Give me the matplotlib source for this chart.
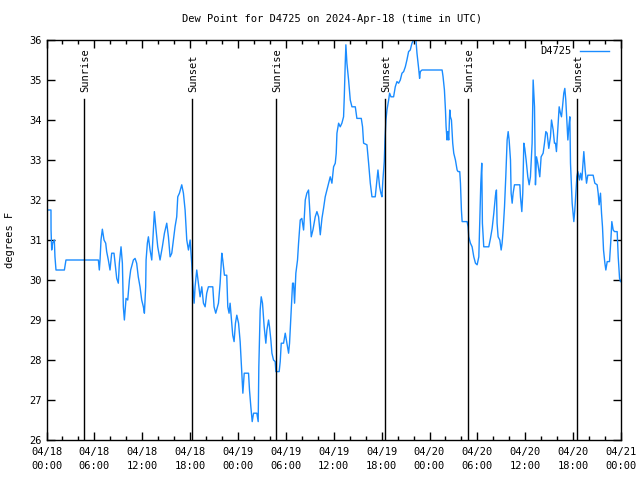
import matplotlib
matplotlib.use("Agg")
import matplotlib.pyplot as plt
from matplotlib.ticker import MultipleLocator, FixedLocator

plt.rcParams['font.family'] = ['DejaVu Sans Mono']

# hours since 2024-04-18 00:00 UTC
hours = [0.0, 0.56, 0.57, 0.65, 0.77, 0.98, 1.06, 1.19, 2.24, 2.44, 6.5, 6.62, 6.71, 6.83, 7.0, 7.21,
         7.42, 7.54, 7.75, 7.96, 8.17, 8.46, 8.59, 8.8, 9.0, 9.13, 9.34, 9.51, 9.63, 9.76, 9.97,
         10.18, 10.39, 10.55, 10.89, 11.1, 11.3, 11.5, 11.72, 11.93, 12.14, 12.27, 12.43, 12.48,
         12.64, 12.77, 12.98, 13.19, 13.4, 13.52, 13.73, 13.94, 14.23, 14.52, 14.78, 15.07, 15.28,
         15.49, 15.7, 15.9, 16.11, 16.32, 16.45, 16.66, 16.95, 17.16, 17.37, 17.58, 17.79, 18.0,
         18.2, 18.33, 18.5, 18.62, 18.83, 19.04, 19.25, 19.46, 19.67, 19.88, 20.08, 20.29, 20.84,
         21.0, 21.21, 21.55, 21.76, 21.97, 22.09, 22.3, 22.59, 22.72, 22.88, 23.01, 23.22, 23.34,
         23.51, 23.68, 23.85, 24.07, 24.27, 24.48, 24.61, 24.69, 24.78, 25.32, 25.44, 25.61, 25.78,
         25.95, 26.36, 26.53, 26.61, 26.78, 26.91, 27.07, 27.28, 27.49, 27.62, 27.83, 27.95, 28.12,
         28.25, 28.45, 28.66, 28.75, 29.16, 29.29, 29.42, 29.71, 29.92, 30.13, 30.34, 30.46, 30.63,
         30.84, 30.96, 31.09, 31.25, 31.46, 31.59, 31.8, 32.0, 32.22, 32.43, 32.63, 32.84, 32.97,
         33.18, 33.39, 33.68, 33.89, 34.1, 34.31, 34.52, 34.72, 34.93, 35.14, 35.35, 35.56, 35.77,
         35.98, 36.19, 36.31, 36.4, 36.61, 36.81, 37.02, 37.23, 37.32, 37.44, 37.52, 37.65, 37.86,
         38.07, 38.28, 38.7, 38.9, 39.45, 39.61, 39.74, 40.16, 40.37, 40.58, 40.79, 41.2, 41.41,
         41.54, 41.75, 41.91, 42.04, 42.16, 42.33, 42.42, 42.54, 42.67, 42.88, 43.0, 43.17, 43.5,
         43.71, 43.92, 44.13, 44.34, 44.55, 44.76, 44.97, 45.17, 45.38, 45.59, 45.8, 46.01, 46.3,
         46.43, 46.64, 46.76, 46.85, 47.06, 49.58, 49.7, 49.87, 50.0, 50.08, 50.2, 50.29, 50.41,
         50.54, 50.62, 50.75, 50.91, 51.04, 51.25, 51.46, 51.58, 51.79, 51.88, 52.0, 52.09, 52.71,
         52.84, 52.92, 53.13, 53.34, 53.55, 53.76, 53.97, 54.18, 54.3, 54.43, 54.55, 54.63, 54.8,
         55.43, 55.64, 55.85, 56.06, 56.27, 56.39, 56.47, 56.6, 56.81, 56.98, 57.1, 57.23, 57.4,
         57.56, 57.73, 57.86, 57.98, 58.15, 58.23, 58.36, 58.48, 58.65, 59.32, 59.4, 59.57, 59.69,
         59.82, 59.94, 60.11, 60.32, 60.49, 60.65, 60.86, 60.99, 61.16, 61.28, 61.41, 61.57, 61.7,
         61.82, 61.99, 62.24, 62.41, 62.58, 62.74, 62.95, 63.16, 63.29, 63.5, 63.66, 63.79, 63.91,
         64.08, 64.25, 64.41, 64.54, 64.67, 64.83, 64.96, 65.08, 65.21, 65.34, 65.46, 65.59, 65.67,
         65.88, 66.09, 66.21, 66.34, 66.47, 66.59, 66.8, 66.93, 67.09, 67.34, 67.51, 67.68, 67.84,
         68.51, 68.72, 69.01, 69.14, 69.26, 69.43, 69.56, 69.68, 69.81, 69.98, 70.1, 70.27, 70.56,
         70.73, 70.85, 71.02, 71.19, 71.52, 71.65, 71.82, 71.94]

dewpoint = [31.75, 31.75, 31.25, 30.75, 30.92, 31.0, 30.58, 30.25, 30.25, 30.5, 30.5, 30.25, 30.5, 31.0,
            31.27, 31.0, 30.92, 30.71, 30.5, 30.25, 30.67, 30.67, 30.42, 30.04, 29.92, 30.42, 30.83,
            30.42, 29.33, 29.0, 29.54, 29.5, 30.0, 30.25, 30.5, 30.54, 30.42, 30.08, 29.83, 29.5,
            29.33, 29.17, 29.83, 30.5, 30.92, 31.08, 30.75, 30.5, 31.25, 31.71, 31.25, 30.83, 30.5,
            30.83, 31.17, 31.42, 31.08, 30.58, 30.67, 31.0, 31.33, 31.58, 32.08, 32.17, 32.38, 32.17,
            31.75, 31.0, 30.75, 31.0, 30.42, 29.92, 29.42, 29.83, 30.25, 29.92, 29.58, 29.83, 29.42,
            29.33, 29.67, 29.83, 29.83, 29.33, 29.17, 29.42, 29.92, 30.67, 30.5, 30.12, 30.12, 29.33,
            29.17, 29.42, 28.92, 28.62, 28.46, 28.92, 29.12, 28.92, 28.46, 27.67, 27.17, 27.42, 27.67,
            27.67, 27.25, 26.83, 26.46, 26.67, 26.67, 26.46, 27.83, 29.25, 29.58, 29.42, 28.83, 28.42,
            28.75, 29.0, 28.83, 28.5, 28.17, 28.0, 27.96, 27.71, 27.71, 27.96, 28.42, 28.42, 28.67,
            28.42, 28.17, 28.42, 29.08, 29.92, 29.92, 29.42, 30.17, 30.5, 30.92, 31.5, 31.54, 31.25,
            32.0, 32.17, 32.25, 31.83, 31.08, 31.25, 31.58, 31.71, 31.58, 31.13, 31.54, 31.79, 32.08,
            32.25, 32.42, 32.58, 32.42, 32.83, 32.92, 33.17, 33.67, 33.92, 33.83, 33.92, 34.08, 34.58,
            35.42, 35.88, 35.42, 35.0, 34.5, 34.33, 34.33, 34.04, 34.04, 33.83, 33.42, 33.38, 32.92,
            32.42, 32.08, 32.08, 32.5, 32.75, 32.33, 32.17, 32.08, 32.5, 32.96, 33.5, 34.0, 34.25,
            34.5, 34.67, 34.58, 34.58, 34.83, 34.96, 34.92, 35.0, 35.17, 35.21, 35.33, 35.5, 35.71,
            35.75, 35.92, 36.0, 36.0, 35.67, 35.29, 35.04, 35.21, 35.25, 35.25, 35.08, 34.75, 34.25,
            33.83, 33.5, 33.71, 33.5, 34.25, 34.08, 34.0, 33.42, 33.17, 33.0, 32.75, 32.71, 32.71,
            32.42, 31.75, 31.46, 31.46, 31.33, 31.08, 30.92, 30.83, 30.58, 30.42, 30.38, 30.58, 31.42,
            32.42, 32.92, 31.42, 30.83, 30.83, 31.04, 31.29, 31.67, 32.12, 32.25, 31.42, 31.08, 31.0,
            30.75, 30.92, 31.25, 31.83, 32.58, 33.5, 33.71, 33.5, 33.0, 32.17, 31.92, 32.17, 32.38,
            32.38, 32.08, 31.71, 32.17, 33.42, 33.29, 33.0, 32.58, 32.38, 32.58, 33.42, 35.0, 34.33,
            32.38, 33.08, 32.92, 32.75, 32.58, 33.08, 33.17, 33.42, 33.71, 33.67, 33.29, 33.58, 34.0,
            33.75, 33.42, 33.42, 33.21, 33.75, 34.33, 34.17, 34.08, 34.33, 34.67, 34.79, 34.5, 34.0,
            33.5, 33.83, 34.08, 32.92, 31.92, 31.46, 31.75, 32.17, 32.58, 32.71, 32.5, 32.67, 32.5,
            33.21, 32.75, 32.42, 32.62, 32.62, 32.42, 32.38, 32.17, 31.88, 32.17, 31.67, 31.33, 30.75,
            30.42, 30.25, 30.46, 30.46, 31.0, 31.46, 31.25, 31.21, 31.21, 30.58, 30.04, 29.96]

sun_times = [4.74, 18.29, 28.71, 42.37, 52.8, 66.46]
sun_labels = ['Sunrise', 'Sunset', 'Sunrise', 'Sunset', 'Sunrise', 'Sunset']

xtick_pos = [0, 6, 12, 18, 24, 30, 36, 42, 48, 54, 60, 66, 72]
xtick_labels = ['04/18\n00:00', '04/18\n06:00', '04/18\n12:00', '04/18\n18:00',
                '04/19\n00:00', '04/19\n06:00', '04/19\n12:00', '04/19\n18:00',
                '04/20\n00:00', '04/20\n06:00', '04/20\n12:00', '04/20\n18:00',
                '04/21\n00:00']

FS = 7.5
fig = plt.figure(figsize=(6.4, 4.8), dpi=100)
ax = fig.add_axes([46.5/640, 40/480, (621-46.5)/640, 400/480])

ax.plot(hours, dewpoint, color='#1a8cff', lw=1.0, label='D4725')

for t, lab in zip(sun_times, sun_labels):
    ax.plot([t, t], [26, 34.52], color='black', lw=1.0)
    ax.text(t + 0.15, 34.7, lab, rotation=90, ha='center', va='bottom', fontsize=FS)

ax.set_xlim(0, 72)
ax.set_ylim(26, 36)
ax.xaxis.set_major_locator(FixedLocator(xtick_pos))
ax.set_xticklabels(xtick_labels, fontsize=FS, linespacing=1.5)
ax.xaxis.set_minor_locator(MultipleLocator(2))
ax.yaxis.set_major_locator(MultipleLocator(1))
ax.tick_params(axis='both', which='both', direction='in', top=True, right=True, width=1)
ax.tick_params(axis='both', which='major', length=6, labelsize=FS)
ax.tick_params(axis='both', which='minor', length=3)
ax.tick_params(axis='x', which='major', pad=5)
for s in ax.spines.values():
    s.set_linewidth(1.0)

fig.text(10/640, 240/480, 'degrees F', rotation=90, ha='center', va='center', fontsize=FS)
fig.text(332/640, 1 - 19/480, 'Dew Point for D4725 on 2024-Apr-18 (time in UTC)',
         ha='center', va='center', fontsize=FS)

leg = ax.legend(loc='upper right', bbox_to_anchor=(1 - 6/574.5, 1), frameon=False,
                markerfirst=False, handlelength=2.8, fontsize=FS, borderaxespad=0.2,
                handletextpad=0.75)

fig.savefig('out.png', dpi=100)
